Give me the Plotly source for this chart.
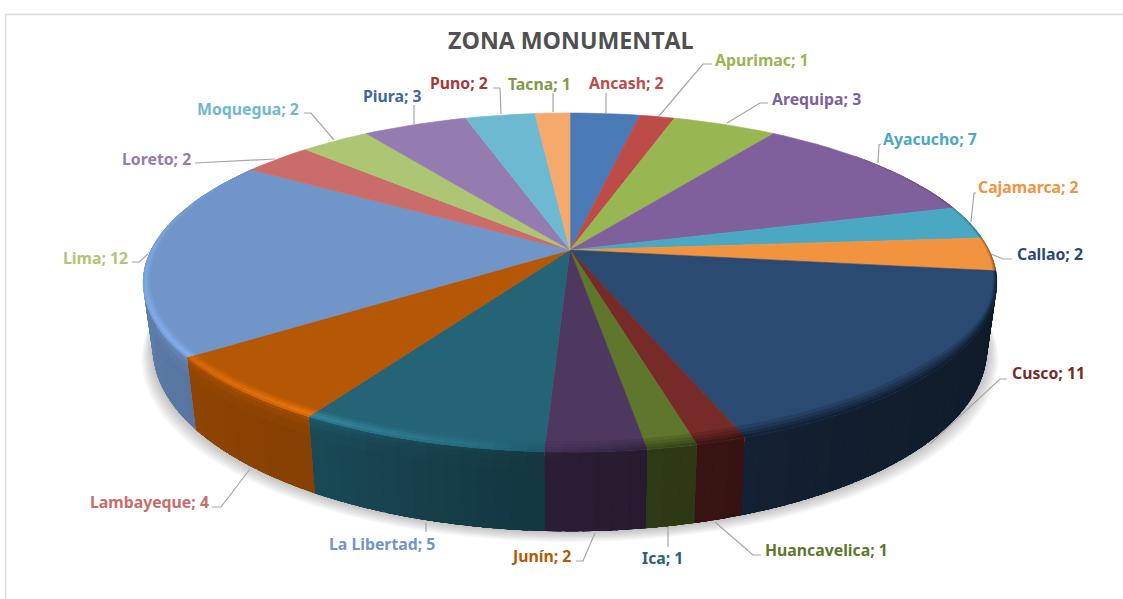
import numpy as np
import plotly.graph_objects as go

# ---------- data ----------
regions = ["Ancash", "Apurimac", "Arequipa", "Ayacucho", "Cajamarca", "Callao", "Cusco",
           "Huancavelica", "Ica", "Junín", "La Libertad", "Lambayeque", "Lima", "Loreto",
           "Moquegua", "Piura", "Puno", "Tacna"]
values = [2, 1, 3, 7, 2, 2, 11, 1, 1, 2, 5, 4, 12, 2, 2, 3, 2, 1]
title_text = "ZONA MONUMENTAL"

# ---------- styles ----------
slice_colors = ["#4a7ab5", "#bd4c49", "#98b752", "#7f609c", "#4aa8c3", "#f29340", "#2a4a72",
                "#772b28", "#5f762d", "#4e3860", "#246476", "#b55704", "#6f95c9", "#c96c6a",
                "#adc674", "#947bb0", "#6db9d1", "#f5a96a"]
label_colors = ["#bd4c49", "#98b752", "#7f609c", "#4aa8c3", "#f29340", "#2a4a72", "#772b28",
                "#5f762d", "#246476", "#b55704", "#6f95c9", "#c96c6a", "#adc674", "#947bb0",
                "#6db9d1", "#3f689f", "#a5393a", "#7d9c45"]
label_x = [587, 713, 770, 881, 976, 1015, 1010, 763, 640, 509, 327, 88, 61, 120, 195, 361, 428, 506]
label_y = [83, 60, 99, 139, 187, 254, 373, 550, 558, 556, 544, 502, 258, 159, 109, 96, 83, 84]
leaders = [
    [(606, 113), (606, 93)],
    [(659, 116), (703, 64), (712, 64)],
    [(727, 123), (760, 103), (768, 103)],
    [(878, 163), (879, 145), (881, 144)],
    [(971, 222), (974, 193), (976, 193)],
    [(991, 254), (1003, 259), (1012, 259)],
    [(930, 444), (1000, 379), (1007, 379)],
    [(715, 522), (753, 555), (761, 555)],
    [(668, 527), (668, 547)],
    [(595, 533), (583, 561), (576, 561)],
    [(426, 523), (426, 532)],
    [(250, 469), (221, 507), (212, 507)],
    [(148, 254), (139, 262), (132, 262)],
    [(275, 159), (205, 163), (195, 163)],
    [(334, 140), (311, 113), (304, 113)],
    [(414, 124), (414, 105)],
    [(501, 114), (500, 88), (493, 88)],
    [(553, 112), (553, 93)],
]

CX, CY, RX, RY, P = 570.0, 250.0, 419.0, 163.3, 0.192
DEPTH, BOTTOM_SCALE = 64.0, 0.977
side_a = [90, 150, 165, 172, 183, 195, 211, 235, 270]
side_f = [.36, .42, .47, .49, .55, .62, .74, .79, .85]
# brightening of the bevel (left/front) and darkening toward the wall (right)
glow_a = [175, 186, 197, 211, 235, 270, 303]
glow_s = [0, .03, .14, .26, .14, .10, .0]
dark_a = [50, 92, 100, 160, 172, 183, 190]
dark_t = [.0, .55, .95, .95, .7, .3, 0]
# bevel width in pixels round the rim
width_a = [50, 95, 110, 130, 160, 175, 211, 270, 303]
width_px = [1.5, 2.5, 3.5, 8, 8, 7, 6, 6, 3]


def project(theta_deg, r=1.0):
    t = np.radians(theta_deg)
    X, Y = r * np.sin(t), r * np.cos(t)
    d = 1 + P * Y
    return CX + RX * X / d, CY - RY * Y / d


def project_side(theta_deg, frac):
    x, y = project(theta_deg)
    t = np.radians(theta_deg)
    d = 1 + P * np.cos(t)
    k = 1 - (1 - BOTTOM_SCALE) * frac
    return CX + (x - CX) * k, y + DEPTH / d * frac


def rgb(hexcolor):
    return np.array([int(hexcolor[i:i + 2], 16) for i in (1, 3, 5)], float)


def css(c):
    c = np.clip(c, 0, 255).astype(int)
    return f"rgb({c[0]},{c[1]},{c[2]})"


fig = go.Figure()


def poly(xs, ys, color, width=0.0):
    fig.add_trace(go.Scatter(x=xs, y=ys, mode="lines", fill="toself", fillcolor=color,
                             line=dict(color=color, width=width), hoverinfo="skip", showlegend=False))


# slice limits from the values
angles = np.cumsum([0] + values) / sum(values) * 360.0

# soft shadow under the pie
th = np.linspace(90, 270, 91)
for i in range(10):
    grow = 1 + 0.003 * i
    xs, ys = [CX], [CY]
    for a in th:
        x, y = project_side(a, 1)
        xs.append(CX + (x - CX) * grow)
        ys.append(y + 1.2 * i)
    poly(xs, ys, "rgba(60,60,60,0.035)")

# side wall: every piece runs on under the next one, so no seams show
band_edges = [0, .05, .12, .25]
band_gain = [1.18, 1.09, 1.03, 1.0]
for i, col in enumerate(slice_colors):
    a0, a1 = max(angles[i], 85), min(angles[i + 1], 275)
    if a1 <= a0:
        continue
    n = max(1, int(np.ceil((a1 - a0) / 2)))
    seg = np.linspace(a0, a1, n + 1)
    base = rgb(col)
    for s0, s1 in zip(seg[:-1], seg[1:]):
        mid = (s0 + s1) / 2
        f = np.interp(mid, side_a, side_f)
        lit = np.clip((mid - 175) / 30, 0, 1)
        end = min(s1 + 1.5, a1)
        sub = np.linspace(s0, end, 4)
        for b in range(len(band_gain)):
            top = [project_side(a, band_edges[b]) for a in sub]
            bot = [project_side(a, 1) for a in sub[::-1]]
            pts = top + bot
            g = 1 + (band_gain[b] - 1) * lit
            poly([p[0] for p in pts], [p[1] for p in pts], css(base * f * g))

# top face
for i, col in enumerate(slice_colors):
    n = max(2, int(np.ceil((angles[i + 1] - angles[i]) / 2)))
    seg = np.linspace(angles[i], angles[i + 1], n + 1)
    x, y = project(seg)
    poly([CX] + list(x) + [CX], [CY] + list(y) + [CY], col, 0.6)

# bevel along the rim, painted from the inner edge outward
ring_frac = [1.0, .72, .45, .2]
glow_w = [.3, .7, 1.0, .6]
dark_w = [.25, .5, .75, 1.0]


def rim_inset(theta_deg, px):
    """Radial inset that gives a band of about px pixels, measured across the rim."""
    t = np.radians(theta_deg)
    return px * np.hypot(RX * np.cos(t), RY * np.sin(t)) / (RX * RY)


for i, col in enumerate(slice_colors):
    a0, a1 = max(angles[i], 50), min(angles[i + 1], 303)
    if a1 <= a0:
        continue
    n = max(1, int(np.ceil((a1 - a0) / 2)))
    seg = np.linspace(a0, a1, n + 1)
    base = rgb(col)
    for s0, s1 in zip(seg[:-1], seg[1:]):
        mid = (s0 + s1) / 2
        s = np.interp(mid, glow_a, glow_s)
        t = np.interp(mid, dark_a, dark_t)
        wall = base * np.interp(mid, side_a, side_f)
        end = min(s1 + 1.5, a1)
        sub = np.linspace(s0, end, 4)
        for b in range(4):
            xo, yo = project(sub, 1.0)
            inset = rim_inset(sub[::-1], np.interp(sub[::-1], width_a, width_px) * ring_frac[b])
            xi, yi = zip(*[project(a, 1 - d) for a, d in zip(sub[::-1], inset)])
            c = base + (wall - base) * t * dark_w[b]
            g = s * glow_w[b]
            c = c * (1 + g) + 30 * g
            poly(list(xo) + list(xi), list(yo) + list(yi), css(c))

# leader lines
for pts in leaders:
    fig.add_trace(go.Scatter(x=[p[0] for p in pts], y=[p[1] for p in pts], mode="lines",
                             line=dict(color="#a6a6a6", width=1.2), hoverinfo="skip", showlegend=False))

# chart frame
fig.add_trace(go.Scatter(x=[5.5, 5.5, 1123], y=[599, 14.5, 14.5], mode="lines",
                         line=dict(color="#dcdcdc", width=1.5), hoverinfo="skip", showlegend=False))

annotations = [
    dict(x=x, y=y, xref="x", yref="y", xanchor="left", yanchor="middle", showarrow=False,
         text=f"{name}; {val}", font=dict(family="Noto Sans", size=15.8, color=c, weight="bold"))
    for name, val, x, y, c in zip(regions, values, label_x, label_y, label_colors)
]
annotations.append(dict(x=570.5, y=40, xref="x", yref="y", xanchor="center", yanchor="middle",
                        showarrow=False, text=title_text,
                        font=dict(family="Open Sans", size=23.2, color="#505050", weight="bold")))

fig.update_layout(
    width=1123, height=599, margin=dict(l=0, r=0, t=0, b=0),
    paper_bgcolor="white", plot_bgcolor="white", showlegend=False,
    xaxis=dict(range=[0, 1123], visible=False, fixedrange=True),
    yaxis=dict(range=[599, 0], visible=False, fixedrange=True),
    annotations=annotations,
)
fig.write_html("out.html", config={"displayModeBar": False},
               post_script="document.body.style.margin='0';document.body.style.overflow='hidden';")
